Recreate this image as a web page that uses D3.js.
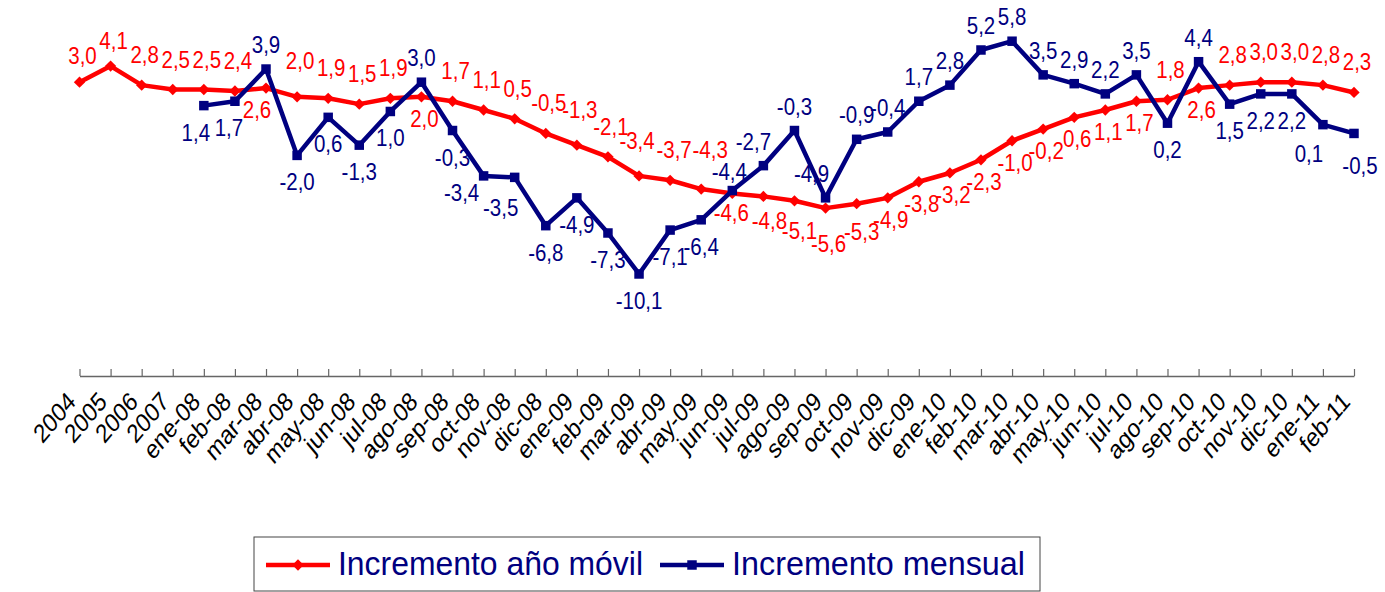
<!DOCTYPE html>
<html>
<head>
<meta charset="utf-8">
<script src="https://cdn.jsdelivr.net/npm/d3@7"></script>
<style>
  body { margin: 0; background: #fff; }
  svg { display: block; font-family: "Liberation Sans", Arial, sans-serif; }
</style>
</head>
<body>
<div id="chart"></div>
<script>
/********************************************************/
// categories on the x axis
const categories = [
  "2004", "2005", "2006", "2007",
  "ene-08", "feb-08", "mar-08", "abr-08", "may-08", "jun-08",
  "jul-08", "ago-08", "sep-08", "oct-08", "nov-08", "dic-08",
  "ene-09", "feb-09", "mar-09", "abr-09", "may-09", "jun-09",
  "jul-09", "ago-09", "sep-09", "oct-09", "nov-09", "dic-09",
  "ene-10", "feb-10", "mar-10", "abr-10", "may-10", "jun-10",
  "jul-10", "ago-10", "sep-10", "oct-10", "nov-10", "dic-10",
  "ene-11", "feb-11",
];
// Incremento año móvil
const anualValues = [
  3.0, 4.1, 2.8, 2.5,
  2.5, 2.4, 2.6, 2.0, 1.9, 1.5,
  1.9, 2.0, 1.7, 1.1, 0.5, -0.5,
  -1.3, -2.1, -3.4, -3.7, -4.3, -4.6,
  -4.8, -5.1, -5.6, -5.3, -4.9, -3.8,
  -3.2, -2.3, -1.0, -0.2, 0.6, 1.1,
  1.7, 1.8, 2.6, 2.8, 3.0, 3.0,
  2.8, 2.3,
];
// Incremento mensual (starts at ene-08)
const mensualValues = [
  null, null, null, null,
  1.4, 1.7, 3.9, -2.0, 0.6, -1.3,
  1.0, 3.0, -0.3, -3.4, -3.5, -6.8,
  -4.9, -7.3, -10.1, -7.1, -6.4, -4.4,
  -2.7, -0.3, -4.9, -0.9, -0.4, 1.7,
  2.8, 5.2, 5.8, 3.5, 2.9, 2.2,
  3.5, 0.2, 4.4, 1.5, 2.2, 2.2,
  0.1, -0.5,
];
// categories where the labels swap side (red goes below, blue above)
const flippedLabels = [
  "mar-08", "ago-08", "jun-09", "jul-09", "ago-09", "sep-09", "oct-09",
  "nov-09", "dic-09", "ene-10", "feb-10", "mar-10", "abr-10", "may-10",
  "jun-10", "jul-10", "sep-10",
];
// a few labels were dragged around in the original: [dx, dy]
const anualNudge = {
  "2004": [0, 4], "2005": [0, 5], "mar-08": [-12, 0], "abr-08": [0, -6],
  "ene-09": [0, -5], "mar-09": [-5, -5], "abr-09": [1, 0], "may-09": [6, -9],
  "jun-09": [-4, -2], "jul-09": [3, 3], "ago-09": [2, 8], "sep-09": [0, 14], "oct-09": [2, 6],
};
const mensualNudge = {
  "ene-08": [-8, 0], "feb-08": [-6, 0], "oct-08": [-22, -10], "nov-08": [-14, 4],
  "jun-09": [-3, 5], "jul-09": [-10, 0], "sep-09": [-14, 0], "ene-11": [-14, 2], "feb-11": [6, 6],
};
/********************************************************/
const svgWidth = 1385;
const svgHeight = 592;
const axisY = 376;
const red = "#ff0000";
const navy = "#000080";
const stretch = 1.2; // the original picture is a bit taller than wide

const svg = d3.select("#chart").append("svg")
  .attr("width", svgWidth).attr("height", svgHeight);

const x = d3.scalePoint().domain(categories).range([79.5, 1354]);
const y = d3.scaleLinear().domain([-17, 8]).range([375, 9]);

const fmt = (v) => v.toFixed(1).replace(".", ",");

/********************************************************/
// x axis: ticks pointing up, rotated labels
const xAxis = d3.axisBottom(x).tickSizeInner(-7).tickSizeOuter(0);
const axisG = svg.append("g")
  .attr("transform", `translate(0, ${axisY})`)
  .call(xAxis);
axisG.select(".domain").attr("stroke", "#666").attr("stroke-width", 1.5);
axisG.selectAll(".tick line").attr("stroke", "#666").attr("stroke-width", 1.2);
axisG.selectAll(".tick text")
  .attr("x", 0).attr("y", 0).attr("dy", null)
  .attr("text-anchor", "end")
  .attr("fill", "#000")
  .attr("font-size", "22px")
  .attr("font-family", "Liberation Sans, Arial, sans-serif")
  .attr("transform", `translate(-3, 27) scale(1, ${stretch}) rotate(-45)`);

/********************************************************/
const series = [
  { name: "Incremento año móvil", values: anualValues, color: red, marker: "diamond", below: false, nudge: anualNudge },
  { name: "Incremento mensual", values: mensualValues, color: navy, marker: "square", below: true, nudge: mensualNudge },
];

series.forEach((s) => {
  const pts = categories.map((c, i) => ({ c, v: s.values[i] })).filter((d) => d.v !== null);
  const line = d3.line().x((d) => x(d.c)).y((d) => y(d.v));
  svg.append("path")
    .datum(pts)
    .attr("d", line)
    .attr("fill", "none")
    .attr("stroke", s.color)
    .attr("stroke-width", 4.5)
    .attr("stroke-linejoin", "round");

  const sym = s.marker === "diamond"
    ? d3.symbol().type(d3.symbolSquare).size(64)
    : d3.symbol().type(d3.symbolSquare).size(90);
  svg.append("g")
    .selectAll("path")
    .data(pts)
    .enter()
    .append("path")
    .attr("d", sym)
    .attr("fill", s.color)
    .attr("transform", (d) => `translate(${x(d.c)}, ${y(d.v)})` + (s.marker === "diamond" ? " rotate(45)" : ""));

  svg.append("g")
    .selectAll("text")
    .data(pts)
    .enter()
    .append("text")
    .text((d) => fmt(d.v))
    .attr("transform", (d) => {
      const below = flippedLabels.includes(d.c) ? !s.below : s.below;
      const [ndx, ndy] = s.nudge[d.c] || [0, 0];
      let lx = x(d.c) + ndx;
      let ly = y(d.v) + ndy;
      if (s.marker === "diamond") {
        lx += 3;
        ly += below ? 30 : -22;
      } else {
        ly += below ? 35 : -16;
      }
      return `translate(${lx}, ${ly}) scale(1, ${stretch})`;
    })
    .attr("text-anchor", "middle")
    .attr("fill", s.color)
    .attr("font-size", "20.5px");
});

/********************************************************/
// legend
const legend = svg.append("g");
legend.append("rect")
  .attr("x", 254).attr("y", 537).attr("width", 786).attr("height", 54)
  .attr("fill", "#fff").attr("stroke", "#444").attr("stroke-width", 1);

const legendItems = [
  { s: series[0], x0: 266, tx: 338, tw: 305 },
  { s: series[1], x0: 660, tx: 732, tw: 293 },
];
legendItems.forEach((it) => {
  legend.append("line")
    .attr("x1", it.x0).attr("x2", it.x0 + 64)
    .attr("y1", 565).attr("y2", 565)
    .attr("stroke", it.s.color).attr("stroke-width", 4.5);
  legend.append("path")
    .attr("d", d3.symbol().type(d3.symbolSquare).size(it.s.marker === "diamond" ? 64 : 90))
    .attr("fill", it.s.color)
    .attr("transform", `translate(${it.x0 + 32}, 565)` + (it.s.marker === "diamond" ? " rotate(45)" : ""));
  legend.append("text")
    .attr("transform", `translate(${it.tx}, 575) scale(1, ${stretch})`)
    .attr("fill", navy)
    .attr("font-size", "27px")
    .attr("textLength", it.tw)
    .attr("lengthAdjust", "spacingAndGlyphs")
    .text(it.s.name);
});
</script>
</body>
</html>
